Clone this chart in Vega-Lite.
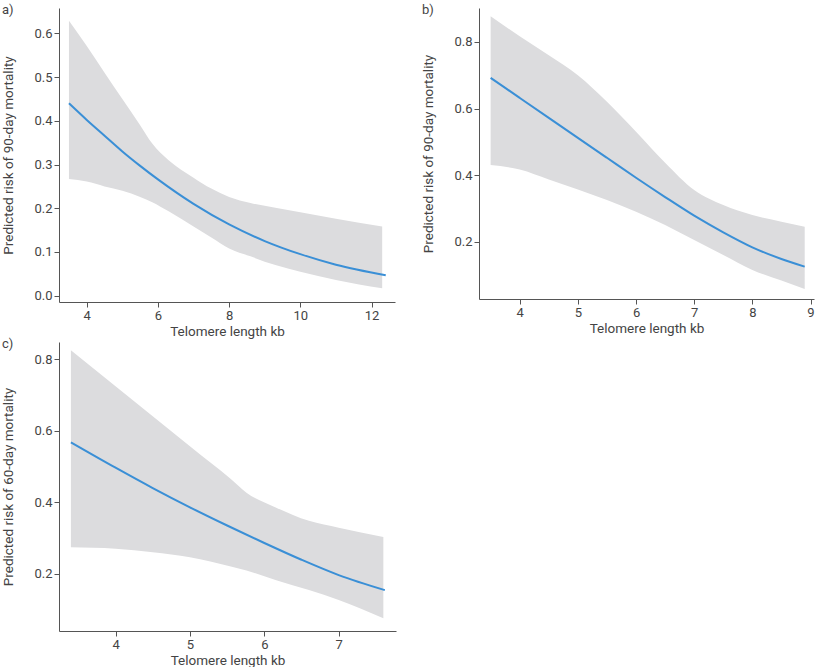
{
  "$schema": "https://vega.github.io/schema/vega-lite/v6.json",
  "padding": {"left": 1, "top": 4, "right": 4, "bottom": 0},
  "background": "white",
  "config": {
    "view": {"stroke": null},
    "font": "Roboto",
    "axis": {
      "grid": false,
      "domainColor": "#555555",
      "tickColor": "#555555",
      "tickSize": 5,
      "labelPadding": 2,
      "labelColor": "#444444",
      "titleColor": "#444444",
      "labelFont": "Roboto",
      "titleFont": "Roboto",
      "labelFontSize": 13,
      "titleFontSize": 13.5,
      "titleFontWeight": "normal"
    },
    "axisX": {"titlePadding": 2},
    "axisY": {"titlePadding": 18},
    "title": {"anchor": "start", "frame": "bounds", "fontSize": 13, "fontWeight": "normal", "color": "#444444", "baseline": "top", "offset": -9, "font": "Roboto"}
  },
  "datasets": {
    "aband": [
      {"x": 3.5, "lo": 0.267, "hi": 0.629},
      {"x": 4.0, "lo": 0.261, "hi": 0.571},
      {"x": 4.5, "lo": 0.25, "hi": 0.51},
      {"x": 5.0, "lo": 0.24, "hi": 0.45},
      {"x": 5.5, "lo": 0.226, "hi": 0.39},
      {"x": 5.84, "lo": 0.214, "hi": 0.348},
      {"x": 6.3, "lo": 0.193, "hi": 0.31},
      {"x": 7.0, "lo": 0.158, "hi": 0.27},
      {"x": 7.5, "lo": 0.133, "hi": 0.245},
      {"x": 8.0, "lo": 0.108, "hi": 0.226},
      {"x": 8.6, "lo": 0.09, "hi": 0.212},
      {"x": 9.3, "lo": 0.07, "hi": 0.201},
      {"x": 10.0, "lo": 0.055, "hi": 0.191},
      {"x": 11.0, "lo": 0.036, "hi": 0.176},
      {"x": 12.3, "lo": 0.017, "hi": 0.158}
    ],
    "aline": [
      {"x": 3.5, "fit": 0.44},
      {"x": 4.0, "fit": 0.402},
      {"x": 4.5, "fit": 0.366},
      {"x": 5.0, "fit": 0.33},
      {"x": 5.5, "fit": 0.297},
      {"x": 6.0, "fit": 0.266},
      {"x": 7.0, "fit": 0.21},
      {"x": 8.0, "fit": 0.163},
      {"x": 9.0, "fit": 0.125},
      {"x": 10.0, "fit": 0.095},
      {"x": 11.0, "fit": 0.071},
      {"x": 12.4, "fit": 0.047}
    ],
    "b": [
      {"x": 3.5, "fit": 0.692, "lo": 0.43, "hi": 0.877},
      {"x": 4.0, "fit": 0.632, "lo": 0.417, "hi": 0.817},
      {"x": 4.5, "fit": 0.572, "lo": 0.387, "hi": 0.76},
      {"x": 5.0, "fit": 0.512, "lo": 0.357, "hi": 0.7},
      {"x": 5.5, "fit": 0.452, "lo": 0.325, "hi": 0.62},
      {"x": 6.0, "fit": 0.392, "lo": 0.29, "hi": 0.53},
      {"x": 6.5, "fit": 0.334, "lo": 0.25, "hi": 0.437},
      {"x": 7.0, "fit": 0.278, "lo": 0.205, "hi": 0.355},
      {"x": 7.5, "fit": 0.228, "lo": 0.16, "hi": 0.31},
      {"x": 8.0, "fit": 0.183, "lo": 0.115, "hi": 0.28},
      {"x": 8.5, "fit": 0.148, "lo": 0.083, "hi": 0.26},
      {"x": 8.9, "fit": 0.125, "lo": 0.058, "hi": 0.245}
    ],
    "cband": [
      {"x": 3.4, "lo": 0.274, "hi": 0.826},
      {"x": 4.0, "lo": 0.27, "hi": 0.725},
      {"x": 4.5, "lo": 0.26, "hi": 0.641},
      {"x": 5.0, "lo": 0.246, "hi": 0.557},
      {"x": 5.55, "lo": 0.22, "hi": 0.465},
      {"x": 5.76, "lo": 0.209, "hi": 0.427},
      {"x": 6.16, "lo": 0.182, "hi": 0.385},
      {"x": 6.6, "lo": 0.154, "hi": 0.348},
      {"x": 7.0, "lo": 0.126, "hi": 0.329},
      {"x": 7.6, "lo": 0.075, "hi": 0.303}
    ],
    "cline": [
      {"x": 3.4, "fit": 0.568},
      {"x": 4.0, "fit": 0.497},
      {"x": 4.5, "fit": 0.44},
      {"x": 5.0, "fit": 0.386},
      {"x": 5.5, "fit": 0.335},
      {"x": 6.0, "fit": 0.286},
      {"x": 6.5, "fit": 0.239},
      {"x": 7.0, "fit": 0.196},
      {"x": 7.62, "fit": 0.154}
    ]
  },
  "spacing": 0,
  "vconcat": [
    {
      "spacing": 26,
      "hconcat": [
        {
          "title": {"text": "a)"},
          "width": 336,
          "height": 294,
          "layer": [
            {
              "data": {"name": "aband"},
              "mark": {"type": "area", "color": "#dcdcde", "opacity": 1, "interpolate": "monotone"},
              "encoding": {
                "x": {"field": "x", "type": "quantitative", "scale": {"domain": [3.22, 12.66], "nice": false, "zero": false}, "axis": {"values": [4, 6, 8, 10, 12], "format": "d", "title": "Telomere length kb"}},
                "y": {"field": "hi", "type": "quantitative", "scale": {"domain": [-0.0144, 0.658], "nice": false, "zero": false}, "axis": {"values": [0, 0.1, 0.2, 0.3, 0.4, 0.5, 0.6], "format": ".1f", "title": "Predicted risk of 90-day mortality"}},
                "y2": {"field": "lo"}
              }
            },
            {
              "data": {"name": "aline"},
              "mark": {"type": "line", "color": "#3a8fd6", "strokeWidth": 2, "interpolate": "monotone"},
              "encoding": {
                "x": {"field": "x", "type": "quantitative"},
                "y": {"field": "fit", "type": "quantitative"}
              }
            }
          ]
        },
        {
          "title": {"text": "b)"},
          "width": 335,
          "height": 291,
          "data": {"name": "b"},
          "layer": [
            {
              "mark": {"type": "area", "color": "#dcdcde", "opacity": 1, "interpolate": "monotone"},
              "encoding": {
                "x": {"field": "x", "type": "quantitative", "scale": {"domain": [3.3, 9.06], "nice": false, "zero": false}, "axis": {"values": [4, 5, 6, 7, 8, 9], "format": "d", "title": "Telomere length kb"}},
                "y": {"field": "hi", "type": "quantitative", "scale": {"domain": [0.0277, 0.902], "nice": false, "zero": false}, "axis": {"values": [0.2, 0.4, 0.6, 0.8], "format": ".1f", "title": "Predicted risk of 90-day mortality"}},
                "y2": {"field": "lo"}
              }
            },
            {
              "mark": {"type": "line", "color": "#3a8fd6", "strokeWidth": 2, "interpolate": "monotone"},
              "encoding": {
                "x": {"field": "x", "type": "quantitative"},
                "y": {"field": "fit", "type": "quantitative"}
              }
            }
          ]
        }
      ]
    },
    {
      "title": {"text": "c)"},
      "width": 337,
      "height": 289,
      "layer": [
        {
          "data": {"name": "cband"},
          "mark": {"type": "area", "color": "#dcdcde", "opacity": 1, "interpolate": "monotone"},
          "encoding": {
            "x": {"field": "x", "type": "quantitative", "scale": {"domain": [3.24, 7.77], "nice": false, "zero": false}, "axis": {"values": [4, 5, 6, 7], "format": "d", "title": "Telomere length kb"}},
            "y": {"field": "hi", "type": "quantitative", "scale": {"domain": [0.0395, 0.849], "nice": false, "zero": false}, "axis": {"values": [0.2, 0.4, 0.6, 0.8], "format": ".1f", "title": "Predicted risk of 60-day mortality"}},
            "y2": {"field": "lo"}
          }
        },
        {
          "data": {"name": "cline"},
          "mark": {"type": "line", "color": "#3a8fd6", "strokeWidth": 2, "interpolate": "monotone"},
          "encoding": {
            "x": {"field": "x", "type": "quantitative"},
            "y": {"field": "fit", "type": "quantitative"}
          }
        }
      ]
    }
  ]
}
